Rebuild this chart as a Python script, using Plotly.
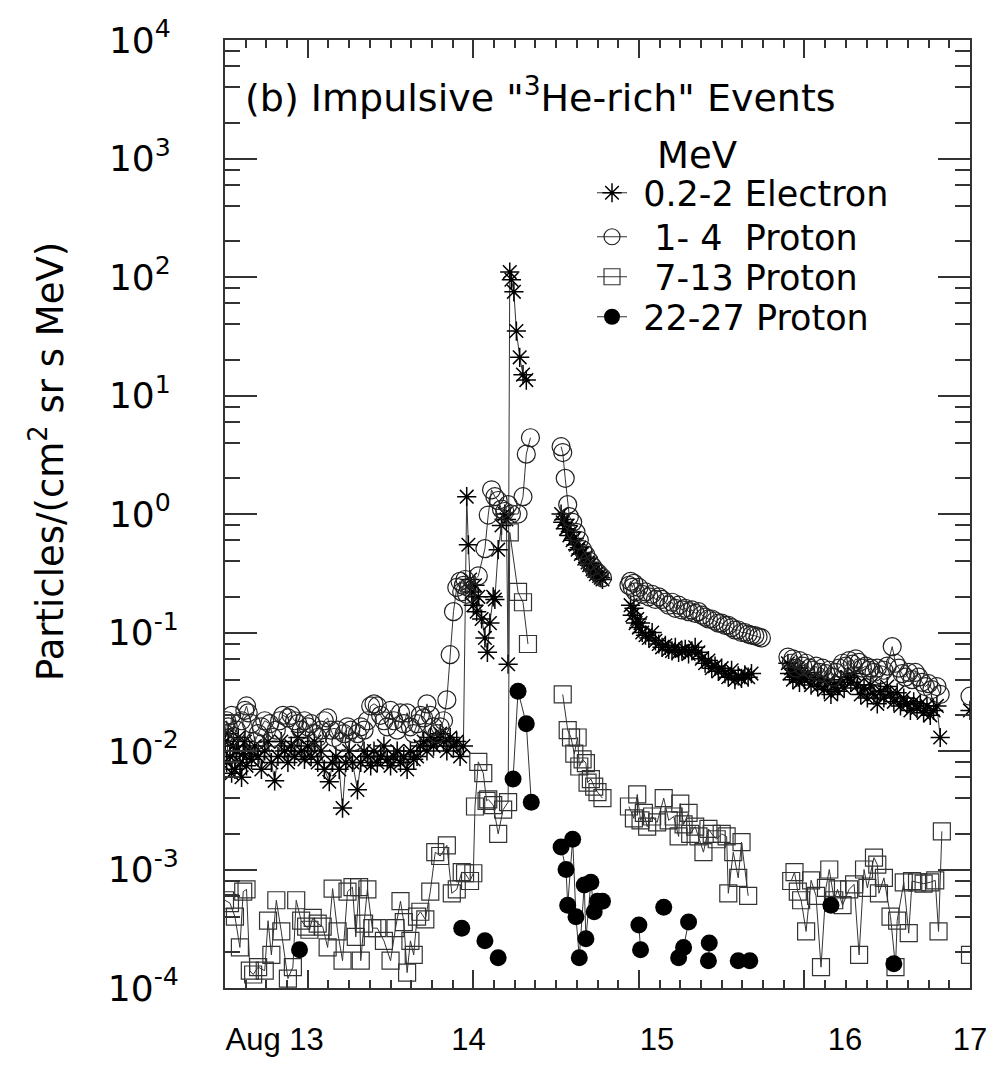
import plotly.graph_objects as go

# ---------------- data (day of August, flux) ----------------
e_x = [12.50, 12.51, 12.52, 12.53, 12.54, 12.55, 12.56, 12.57, 12.58, 12.59, 12.60, 12.61, 12.62, 12.63,
       12.65, 12.66, 12.68, 12.70, 12.72, 12.74, 12.76, 12.78, 12.80, 12.82, 12.84, 12.86, 12.88, 12.90,
       12.92, 12.94, 12.96, 12.98, 13.00, 13.02, 13.04, 13.06, 13.08, 13.10, 13.13, 13.15, 13.17, 13.19,
       13.21, 13.23, 13.25, 13.27, 13.30, 13.32, 13.34, 13.36, 13.38, 13.40, 13.42, 13.44, 13.46, 13.48,
       13.50, 13.52, 13.54, 13.56, 13.58, 13.60, 13.62, 13.64, 13.66, 13.68, 13.70, 13.72, 13.74, 13.76,
       13.78, 13.80, 13.82, 13.84, 13.86, 13.88, 13.90, 13.92, 13.94,
       13.96, 13.97, 13.98, 13.99, 14.00, 14.01, 14.02, 14.03, 14.05, 14.07, 14.085, 14.10, 14.12, 14.13,
       14.15, 14.17, 14.19, 14.20, 14.21, 14.22, 14.23, 14.245, 14.26, 14.28, 14.30, 14.32,
       None,
       14.53, 14.54, 14.55, 14.56, 14.57, 14.58, 14.59, 14.60, 14.61, 14.62, 14.63, 14.64, 14.65, 14.66,
       14.67, 14.68, 14.69, 14.70, 14.71, 14.72, 14.73, 14.74, 14.75, 14.76, 14.77, 14.78,
       None,
       14.95, 14.96, 14.97, 14.98, 14.99, 15.00, 15.01, 15.02, 15.04, 15.06, 15.08, 15.10, 15.12, 15.14,
       15.16, 15.18, 15.20, 15.22, 15.24, 15.26, 15.28, 15.30, 15.32, 15.34, 15.36, 15.38, 15.40, 15.42,
       15.44, 15.46, 15.48, 15.50, 15.52, 15.54, 15.56, 15.58, 15.60, 15.62, 15.64, 15.66, 15.68,
       None,
       15.90, 15.91, 15.92, 15.93, 15.94, 15.95, 15.96, 15.97, 15.98, 16.00, 16.02, 16.04, 16.06, 16.08,
       16.10, 16.12, 16.14, 16.16, 16.18, 16.20, 16.22, 16.24, 16.26, 16.28, 16.30, 16.32, 16.34, 16.36,
       16.38, 16.40, 16.42, 16.44, 16.46, 16.48, 16.50, 16.52, 16.54, 16.56, 16.58, 16.60, 16.62, 16.64,
       16.66, 16.68, 16.70, 16.72, 16.74, 16.76, 16.78, 16.80, 16.82,
       None,
       17.00]
e_y = [1.2e-2, 8e-3, 1.4e-2, 9e-3, 6.5e-3, 1.1e-2, 7e-3, 1.0e-2, 1.3e-2, 8e-3, 6e-3, 9.5e-3, 1.2e-2, 7.5e-3,
       1.0e-2, 8.5e-3, 1.1e-2, 9e-3, 7e-3, 1.0e-2, 1.2e-2, 8e-3, 5.6e-3, 9e-3, 1.2e-2, 1.0e-2, 8e-3, 1.1e-2,
       9e-3, 1.3e-2, 1.0e-2, 8.5e-3, 1.1e-2, 9e-3, 1.2e-2, 8e-3, 1.0e-2, 7e-3, 5.5e-3, 8e-3, 9e-3, 7e-3,
       3.3e-3, 8e-3, 1.0e-2, 8e-3, 4.7e-3, 8e-3, 1.0e-2, 9e-3, 7.5e-3, 1.0e-2, 8e-3, 9e-3, 1.1e-2, 8.5e-3,
       7.5e-3, 9e-3, 1.0e-2, 8e-3, 9e-3, 7e-3, 1.0e-2, 8.5e-3, 9e-3, 1.1e-2, 1.2e-2, 1.0e-2, 1.3e-2, 1.1e-2,
       1.2e-2, 1.4e-2, 1.2e-2, 1.0e-2, 1.3e-2, 1.1e-2, 1.2e-2, 9e-3, 1.1e-2,
       1.4, 0.55, 0.28, 0.22, 0.17, 0.25, 0.15, 0.2, 0.13, 0.09, 0.068, 0.12, 0.2, 0.19,
       0.5, 0.8, 1.0, 0.9, 0.054, 110, 95, 75, 35, 21, 15, 13.5,
       None,
       1.0, 0.85, 0.9, 0.75, 0.8, 0.66, 0.7, 0.6, 0.62, 0.55, 0.5, 0.52, 0.46, 0.47,
       0.42, 0.43, 0.39, 0.37, 0.38, 0.34, 0.33, 0.31, 0.32, 0.3, 0.29, 0.28,
       None,
       0.17, 0.14, 0.16, 0.12, 0.13, 0.11, 0.12, 0.1, 0.095, 0.09, 0.1, 0.085, 0.08, 0.075,
       0.078, 0.072, 0.07, 0.075, 0.068, 0.07, 0.072, 0.066, 0.07, 0.075, 0.068, 0.06, 0.055, 0.058,
       0.05, 0.052, 0.047, 0.05, 0.045, 0.042, 0.048, 0.04, 0.043, 0.041, 0.044, 0.042, 0.045,
       None,
       0.055, 0.045, 0.05, 0.04, 0.048, 0.042, 0.05, 0.038, 0.045, 0.04, 0.046, 0.036, 0.042, 0.035,
       0.04, 0.033, 0.038, 0.03, 0.036, 0.032, 0.04, 0.034, 0.042, 0.038, 0.045, 0.036, 0.03, 0.034,
       0.028, 0.036, 0.03, 0.025, 0.032, 0.028, 0.035, 0.03, 0.026, 0.031, 0.024, 0.028, 0.025, 0.022,
       0.026, 0.023, 0.025, 0.021, 0.024, 0.02, 0.022, 0.024, 0.013,
       None,
       0.022]

p1_x = [12.50, 12.51, 12.52, 12.53, 12.54, 12.57, 12.60, 12.62, 12.63, 12.64, 12.66, 12.68, 12.70, 12.72,
        12.74, 12.77, 12.79, 12.81, 12.83, 12.85, 12.88, 12.90, 12.92, 12.94, 12.96, 12.98, 13.00, 13.02,
        13.04, 13.06, 13.08, 13.10, 13.12, 13.14, 13.16, 13.18, 13.20, 13.22, 13.24, 13.26, 13.28, 13.30,
        13.32, 13.34, 13.36, 13.38, 13.40, 13.42, 13.44, 13.46, 13.48, 13.50, 13.52, 13.54, 13.56, 13.58,
        13.60, 13.62, 13.64, 13.66, 13.68, 13.70, 13.72, 13.74, 13.76, 13.78, 13.80, 13.82, 13.84, 13.86,
        13.88, 13.90, 13.92, 13.93, 13.94, 13.95, 13.96, 13.97, 14.03, 14.07, 14.09, 14.11, 14.13, 14.15,
        14.17, 14.19, 14.21, 14.23, 14.27, 14.30, 14.32, 14.345,
        None,
        14.53, 14.54, 14.555, 14.57, 14.58, 14.60, 14.62, 14.64, 14.66, 14.68, 14.70, 14.72, 14.74, 14.76,
        14.78,
        None,
        14.94, 14.95, 14.96, 14.97, 14.98, 15.00, 15.02, 15.04, 15.06, 15.08, 15.10, 15.12, 15.14, 15.16,
        15.18, 15.20, 15.22, 15.24, 15.26, 15.28, 15.30, 15.32, 15.34, 15.36, 15.38, 15.40, 15.42, 15.44,
        15.46, 15.48, 15.50, 15.52, 15.54, 15.56, 15.58, 15.60, 15.62, 15.64, 15.66, 15.68, 15.70, 15.72,
        15.74,
        None,
        15.90, 15.92, 15.93, 15.95, 15.97, 15.99, 16.01, 16.03, 16.05, 16.07, 16.09, 16.11, 16.13, 16.15,
        16.17, 16.19, 16.21, 16.23, 16.25, 16.27, 16.29, 16.31, 16.33, 16.35, 16.37, 16.39, 16.40, 16.42,
        16.44, 16.46, 16.48, 16.50, 16.53, 16.55, 16.57, 16.59, 16.61, 16.63, 16.65, 16.67, 16.69, 16.71,
        16.73, 16.75, 16.77, 16.80, 16.82,
        None,
        17.00]
p1_y = [0.014, 0.018, 0.016, 0.013, 0.02, 0.015, 0.018, 0.022, 0.024, 0.021, 0.017, 0.012, 0.014, 0.016,
        0.018, 0.017, 0.013, 0.015, 0.018, 0.02, 0.019, 0.02, 0.018, 0.017, 0.015, 0.018, 0.016, 0.017,
        0.014, 0.013, 0.015, 0.018, 0.019, 0.015, 0.013, 0.015, 0.012, 0.014, 0.016, 0.015, 0.012, 0.014,
        0.016, 0.015, 0.018, 0.024, 0.025, 0.024, 0.02, 0.018, 0.016, 0.022, 0.018, 0.015, 0.021, 0.017,
        0.021, 0.016, 0.014, 0.017, 0.02, 0.019, 0.025, 0.02, 0.016, 0.014, 0.016, 0.018, 0.027, 0.065,
        0.15, 0.24, 0.27, 0.22, 0.25, 0.28, 0.21, 0.24, 0.3, 0.51, 0.98, 1.6, 1.4, 1.3,
        1.1, 1.05, 1.2, 1.0, 1.0, 1.4, 3.2, 4.4,
        None,
        3.7, 3.3, 2.0, 1.2, 0.95, 0.85, 0.7, 0.6, 0.5, 0.45, 0.4, 0.36, 0.33, 0.31,
        0.29,
        None,
        0.25, 0.27, 0.24, 0.26, 0.22, 0.24, 0.21, 0.22, 0.2, 0.21, 0.19, 0.2, 0.19, 0.18,
        0.17, 0.18, 0.16, 0.17, 0.155, 0.16, 0.15, 0.155, 0.145, 0.15, 0.14, 0.135, 0.13, 0.13,
        0.125, 0.12, 0.12, 0.115, 0.115, 0.11, 0.105, 0.105, 0.1, 0.1, 0.097, 0.095, 0.094, 0.092,
        0.09,
        None,
        0.062, 0.055, 0.06, 0.05, 0.058, 0.052, 0.055, 0.05, 0.048, 0.052, 0.046, 0.05, 0.045, 0.048,
        0.042, 0.046, 0.05, 0.055, 0.052, 0.058, 0.054, 0.06, 0.056, 0.05, 0.052, 0.048, 0.05, 0.046,
        0.05, 0.044, 0.048, 0.052, 0.076, 0.055, 0.05, 0.045, 0.042, 0.046, 0.04, 0.046, 0.042, 0.038,
        0.035, 0.037, 0.033, 0.035, 0.03,
        None,
        0.029]

p7_x = [12.50, 12.53, 12.56, 12.59, 12.61, 12.63, 12.65, 12.67, 12.70, 12.74, 12.76, 12.78, 12.81, 12.84,
        12.88, 12.91, 12.93, 12.96, 12.99, 13.01, 13.03, 13.06, 13.09, 13.12, 13.15, 13.18, 13.21, 13.24,
        13.27, 13.29, 13.31, 13.32, 13.34, 13.36, 13.39, 13.42, 13.46, 13.50, 13.53, 13.56, 13.58, 13.60,
        13.62, 13.64, 13.66, 13.68, 13.71, 13.74, 13.77, 13.80, 13.84, 13.87, 13.90, 13.93, 13.95, 13.98,
        14.00, 14.01, 14.03, 14.06, 14.08, 14.09, 14.12, 14.15, 14.18, 14.21, 14.22, 14.27, 14.30, 14.33,
        None,
        14.54, 14.57, 14.59, 14.61, 14.63, 14.64, 14.66, 14.68, 14.69, 14.71, 14.73, 14.75, 14.78,
        None,
        14.94, 14.97, 14.99, 15.01, 15.03, 15.05, 15.08, 15.11, 15.15, 15.18, 15.21, 15.24, 15.25, 15.27,
        15.30, 15.31, 15.34, 15.36, 15.39, 15.42, 15.44, 15.47, 15.50, 15.53, 15.54, 15.57, 15.60, 15.62,
        15.66,
        None,
        15.92, 15.94, 15.96, 15.98, 16.01, 16.04, 16.07, 16.10, 16.13, 16.15, 16.18, 16.20, 16.23, 16.27,
        16.30, 16.33, 16.36, 16.38, 16.42, 16.44, 16.45, 16.48, 16.52, 16.55, 16.56, 16.60, 16.63, 16.65,
        16.68, 16.72, 16.76, 16.79, 16.81, 16.83,
        None,
        17.00]
p7_y = [5.5e-4, 5.2e-4, 4.0e-4, 2.2e-4, 6.5e-4, 6.8e-4, 1.4e-4, 1.3e-4, 1.5e-4, 1.4e-4, 3.7e-4, 1.9e-4,
        5.5e-4, 3.0e-4, 1.2e-4, 1.5e-4, 5.5e-4, 3.7e-4, 3.3e-4, 3.1e-4, 3.9e-4, 3.5e-4, 3.3e-4, 2.2e-4,
        6.9e-4, 3.0e-4, 1.7e-4, 6.5e-4, 7.1e-4, 2.7e-4, 7.1e-4, 1.7e-4, 3.5e-4, 6.8e-4, 3.2e-4, 3.2e-4,
        2.5e-4, 1.7e-4, 3.2e-4, 5.4e-4, 3.6e-4, 1.35e-4, 2.5e-4, 1.9e-4, 4.0e-4, 4.4e-4, 3.8e-4, 6.5e-4,
        1.4e-3, 1.3e-3, 1.6e-3, 6.3e-4, 6.8e-4, 9.5e-4, 9.3e-4, 8.0e-4, 9.3e-4, 3.4e-3, 8.1e-3, 6.5e-3,
        3.8e-3, 3.9e-3, 3.5e-3, 2.0e-3, 3.2e-3, 3.7e-3, 0.7, 0.22, 0.18, 0.08,
        None,
        0.030, 0.015, 0.013, 0.0095, 0.013, 0.0074, 0.0085, 0.0079, 0.0054, 0.0058, 0.005, 0.0045, 0.004,
        None,
        3.4e-3, 2.7e-3, 4.3e-3, 2.6e-3, 3.0e-3, 2.3e-3, 2.8e-3, 2.5e-3, 4.0e-3, 2.6e-3, 2.8e-3, 1.9e-3,
        3.6e-3, 2.4e-3, 3.0e-3, 2.0e-3, 2.3e-3, 1.9e-3, 1.4e-3, 2.2e-3, 2.0e-3, 1.8e-3, 2.0e-3, 1.9e-3,
        6.3e-4, 1.4e-3, 8.5e-4, 1.7e-3, 6.0e-4,
        None,
        8.0e-4, 9.5e-4, 6.5e-4, 5.5e-4, 3.0e-4, 8.1e-4, 6.0e-4, 1.5e-4, 7.0e-4, 1.0e-3, 5.5e-4, 6.8e-4,
        5.0e-4, 6.8e-4, 7.5e-4, 1.9e-4, 1.0e-3, 7.0e-4, 1.26e-3, 1.1e-3, 6.3e-4, 8.5e-4, 4.0e-4, 1.5e-4,
        3.7e-4, 7.8e-4, 2.9e-4, 8.0e-4, 7.8e-4, 7.6e-4, 7.8e-4, 8.1e-4, 3.0e-4, 2.1e-3,
        None,
        1.9e-4]

p22_x = [12.95, None, 13.93, None, 14.07, None, 14.15, None,
         14.24, 14.27, 14.32, 14.35, None,
         14.53, 14.56, 14.57, 14.60, 14.62, 14.64, 14.67, 14.68, 14.71, 14.73, 14.75, 14.78, None,
         15.00, 15.01, None, 15.15, None, 15.24, 15.27, 15.30, None, 15.42, 15.425, None,
         15.60, None, 15.67, None, 16.16, None, 16.54]
p22_y = [2.1e-4, None, 3.2e-4, None, 2.5e-4, None, 1.8e-4, None,
         5.8e-3, 3.2e-2, 1.7e-2, 3.7e-3, None,
         1.55e-3, 1.0e-3, 5.0e-4, 1.8e-3, 4.0e-4, 1.8e-4, 7.4e-4, 2.6e-4, 7.8e-4, 4.4e-4, 5.4e-4, 5.4e-4, None,
         3.4e-4, 2.1e-4, None, 4.8e-4, None, 1.8e-4, 2.2e-4, 3.6e-4, None, 1.7e-4, 2.4e-4, None,
         1.7e-4, None, 1.7e-4, None, 5.0e-4, None, 1.6e-4]

# day ticks, and where the day labels are printed under the axis in the original
x_tickvals = [13, 14, 15, 16, 17]
x_label_pos = [12.80, 13.97, 15.11, 16.245, 17.0]
x_ticktext = ["Aug 13", "14", "15", "16", "17"]
y_exponents = [-4, -3, -2, -1, 0, 1, 2, 3, 4]
series_names = [" 0.2-2 Electron", "  1- 4  Proton", "  7-13 Proton", " 22-27 Proton"]

# ---------------- figure ----------------
FONT = "DejaVu Sans"
XFONT = "Liberation Sans"
LINE = dict(color="#333333", width=1)
L0, B0, PW, PH = 225, 988, 745, 948   # plot area in pixels


def px_x(p):
    return (p - L0) / PW


def px_y(p):
    return (B0 - p) / PH


fig = go.Figure()
fig.add_trace(go.Scatter(x=e_x, y=e_y, mode="lines+markers", name=series_names[0], line=LINE,
                         legend="legend",
                         marker=dict(symbol="asterisk-open", size=16, color="black",
                                     line=dict(color="black", width=1.5))))
fig.add_trace(go.Scatter(x=p1_x, y=p1_y, mode="lines+markers", name=series_names[1], line=LINE,
                         legend="legend2",
                         marker=dict(symbol="circle-open", size=18, color="#222222",
                                     line=dict(color="#222222", width=1.2))))
fig.add_trace(go.Scatter(x=p7_x, y=p7_y, mode="lines+markers", name=series_names[2], line=LINE,
                         legend="legend3",
                         marker=dict(symbol="square-open", size=17, color="#333333",
                                     line=dict(color="#333333", width=1.2))))
fig.add_trace(go.Scatter(x=p22_x, y=p22_y, mode="lines+markers", name=series_names[3], line=LINE,
                         legend="legend4", xaxis="x2",
                         marker=dict(symbol="circle", size=17, color="black")))

minor_y = [m * 10 ** k for k in range(-4, 4) for m in (2, 4, 6, 8)]
y_ticktext = [("10<sup>%d</sup>" % k) if k < 0 else ("10<sup>%d\u2008</sup>" % k) for k in y_exponents]

legend_rows = [193, 237, 277, 317]
legend_common = dict(x=px_x(592), xanchor="left", yanchor="middle", bgcolor="rgba(0,0,0,0)",
                     font=dict(size=35, family=FONT), borderwidth=0)

fig.update_layout(
    width=1000, height=1069,
    margin=dict(l=225, r=30, t=40, b=81),
    paper_bgcolor="white", plot_bgcolor="white",
    font=dict(family=FONT, color="black", size=32),
    showlegend=True,
    legend=dict(y=px_y(legend_rows[0]), **legend_common),
    legend2=dict(y=px_y(legend_rows[1]), **legend_common),
    legend3=dict(y=px_y(legend_rows[2]), **legend_common),
    legend4=dict(y=px_y(legend_rows[3]), **legend_common),
    xaxis=dict(range=[12.5, 17.0], tickvals=x_tickvals, showticklabels=False,
               ticks="inside", ticklen=18, tickwidth=1.5, tickcolor="#333",
               showline=True, linecolor="#333", linewidth=2, mirror="ticks",
               showgrid=False, zeroline=False,
               minor=dict(dtick=0.125, ticks="inside", ticklen=8, tickwidth=1.5, tickcolor="#333",
                          showgrid=False)),
    xaxis2=dict(range=[12.5, 17.0], overlaying="x", anchor="y", side="bottom",
                tickvals=x_label_pos, ticktext=x_ticktext, ticks="", showline=False,
                showgrid=False, zeroline=False, ticklabelstandoff=30,
                tickfont=dict(size=31, family=XFONT, color="black")),
    yaxis=dict(type="log", range=[-4, 4],
               tickvals=[10.0 ** k for k in y_exponents], ticktext=y_ticktext,
               ticks="inside", ticklen=32, tickwidth=1.5, tickcolor="#333",
               showline=True, linecolor="#333", linewidth=2, mirror="ticks",
               showgrid=False, zeroline=False, ticklabelstandoff=37,
               tickfont=dict(size=36, family=FONT, color="black"),
               minor=dict(tickvals=minor_y, ticks="inside", ticklen=15, tickwidth=1.5,
                          tickcolor="#333", showgrid=False)),
)

fig.add_annotation(x=px_x(243), y=px_y(95), xref="paper", yref="paper", xanchor="left", yanchor="middle",
                   text='(b) Impulsive "<sup>3</sup>He-rich" Events', showarrow=False,
                   font=dict(size=38, family=FONT))
fig.add_annotation(x=px_x(655), y=px_y(155), xref="paper", yref="paper", xanchor="left", yanchor="middle",
                   text="MeV", showarrow=False, font=dict(size=37, family=FONT))
fig.add_annotation(x=px_x(47), y=px_y(462), xref="paper", yref="paper", xanchor="center", yanchor="middle",
                   text="Particles/(cm<sup>2</sup> sr s MeV)", textangle=-90, showarrow=False,
                   font=dict(size=37, family=FONT))

fig.write_html("out.html")
